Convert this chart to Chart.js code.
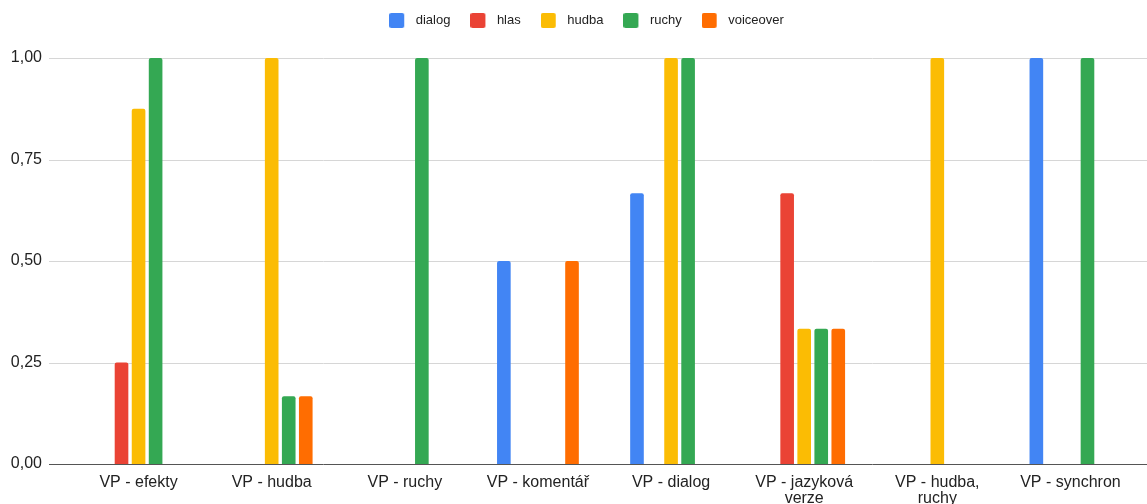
<!DOCTYPE html>
<html>
<head>
<meta charset="utf-8">
<script src="https://cdn.jsdelivr.net/npm/chart.js@4/dist/chart.umd.min.js"></script>
<style>
html,body{margin:0;padding:0;background:#fff;}
#wrap{width:1147px;height:504px;position:relative;}
</style>
</head>
<body>
<div id="wrap"><canvas id="c" width="1147" height="504"></canvas></div>
<script>
const categories = [
  "VP - efekty",
  "VP - hudba",
  "VP - ruchy",
  "VP - komentář",
  "VP - dialog",
  ["VP - jazyková", "verze"],
  ["VP - hudba,", "ruchy"],
  "VP - synchron"
];
const seriesNames = ["dialog", "hlas", "hudba", "ruchy", "voiceover"];
const dialog    = [0,     0,      0, 0.5, 0.6667, 0,      0, 1];
const hlas      = [0.25,  0,      0, 0,   0,      0.6667, 0, 0];
const hudba     = [0.875, 1,      0, 0,   1,      0.3333, 1, 0];
const ruchy     = [1,     0.1667, 1, 0,   1,      0.3333, 0, 1];
const voiceover = [0,     0.1667, 0, 0.5, 0,      0.3333, 0, 0];
const yTicks = [0, 0.25, 0.5, 0.75, 1];
const colors = ['#4285F4', '#EA4335', '#FBBC04', '#34A853', '#FF6D01'];

const FONT = "'Liberation Sans', Arial, sans-serif";

function swatch(color) {
  const c = document.createElement('canvas');
  c.width = 20; c.height = 15;
  const g = c.getContext('2d');
  g.fillStyle = color;
  g.beginPath();
  if (g.roundRect) g.roundRect(0, 0, 15, 15, 2); else g.rect(0, 0, 15, 15);
  g.fill();
  return c;
}
const swatches = colors.map(swatch);

const gridPlugin = {
  id: 'extGrid',
  afterLayout(chart) {
    if (chart.legend) { chart.legend.left += 18; chart.legend.right += 18; }
  },
  beforeDatasetsDraw(chart) {
    const y = chart.scales.y;
    const ctx = chart.ctx;
    ctx.save();
    yTicks.forEach(v => {
      const py = Math.round(y.getPixelForValue(v)) + 0.5;
      ctx.beginPath();
      ctx.strokeStyle = v === 0 ? '#555555' : '#d6d6d6';
      ctx.lineWidth = 1;
      ctx.moveTo(49, py);
      ctx.lineTo(chart.width, py);
      ctx.stroke();
    });
    ctx.restore();
  }
};

const mk = (label, data, color) => ({
  label, data, backgroundColor: color, borderColor: color,
  borderWidth: 0, borderRadius: 2, borderSkipped: 'bottom',
  categoryPercentage: 0.64, barPercentage: 0.8
});

new Chart(document.getElementById('c'), {
  type: 'bar',
  data: {
    labels: categories,
    datasets: [
      mk(seriesNames[0], dialog, colors[0]),
      mk(seriesNames[1], hlas, colors[1]),
      mk(seriesNames[2], hudba, colors[2]),
      mk(seriesNames[3], ruchy, colors[3]),
      mk(seriesNames[4], voiceover, colors[4])
    ]
  },
  options: {
    responsive: false,
    animation: false,
    devicePixelRatio: 1,
    layout: { padding: { left: 0, right: 10, top: -6, bottom: 0 } },
    plugins: {
      tooltip: { enabled: false },
      subtitle: {
        display: true, text: ' ', position: 'top', weight: 500,
        font: { size: 1, lineHeight: 1 }, padding: { top: 10, bottom: 10 }
      },
      legend: {
        position: 'top',
        labels: {
          usePointStyle: true, pointStyleWidth: 20, boxHeight: 15, padding: 20,
          color: '#222', font: { family: FONT, size: 13 },
          generateLabels(chart) {
            return chart.data.datasets.map((d, i) => ({
              text: d.label, fillStyle: d.backgroundColor, strokeStyle: d.backgroundColor,
              lineWidth: 0, pointStyle: swatches[i], datasetIndex: i, fontColor: '#222'
            }));
          }
        }
      }
    },
    scales: {
      x: {
        afterFit(scale) { scale.height = 40; },
        grid: { display: false, drawTicks: false },
        border: { display: false },
        ticks: { color: '#222', font: { family: FONT, size: 16, lineHeight: 1 }, maxRotation: 0, autoSkip: false, padding: 11 }
      },
      y: {
        min: 0, max: 1,
        afterBuildTicks(scale) { scale.ticks = yTicks.map(v => ({ value: v })); },
        afterFit(scale) { scale.width = 72; },
        grid: { display: false, drawTicks: false },
        border: { display: false },
        ticks: {
          color: '#222', font: { family: FONT, size: 16 }, padding: 30,
          callback: v => v.toFixed(2).replace('.', ',')
        }
      }
    }
  },
  plugins: [gridPlugin]
});
</script>
</body>
</html>
